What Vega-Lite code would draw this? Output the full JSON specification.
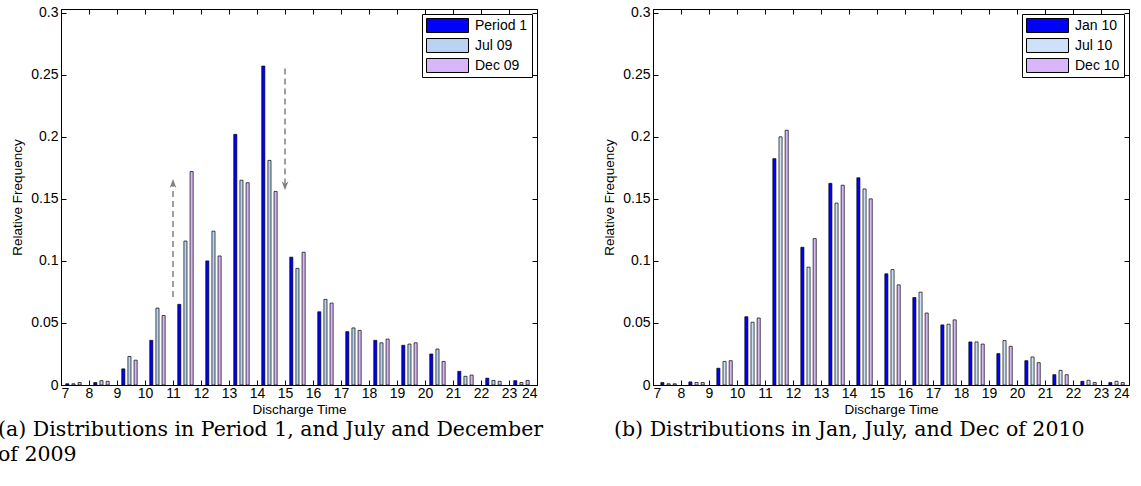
{
  "$schema": "https://vega.github.io/schema/vega-lite/v6.json",
  "background": "white",
  "padding": {"left": -3, "top": 5, "right": 0, "bottom": 0},
  "spacing": 58,
  "resolve": {"scale": {"color": "independent"}, "legend": {"color": "independent"}},
  "config": {
    "view": {"stroke": "black", "strokeWidth": 1},
    "axis": {
      "labelFont": "Liberation Sans", "titleFont": "Liberation Sans",
      "labelFontSize": 14, "titleFontSize": 13.5, "titleFontWeight": "normal",
      "labelColor": "black", "titleColor": "black", "tickColor": "black", "domainColor": "black",
      "grid": false, "tickSize": -5, "labelPadding": 8
    },
    "legend": {
      "orient": "top-right", "offset": 5, "title": null,
      "strokeColor": "black", "fillColor": "white", "padding": 4,
      "symbolType": "M-1,-0.333H1V0.333H-1Z", "symbolSize": 1764,
      "symbolStrokeColor": "black", "symbolStrokeWidth": 1,
      "clipHeight": 15, "rowPadding": 5, "labelOffset": 6,
      "labelFont": "Liberation Sans", "labelFontSize": 14, "labelColor": "black"
    }
  },
  "datasets": {
    "a": [
      {"h":7,"s":"Period 1","v":0.001},{"h":7,"s":"Jul 09","v":0.001},{"h":7,"s":"Dec 09","v":0.002},
      {"h":8,"s":"Period 1","v":0.002},{"h":8,"s":"Jul 09","v":0.0035},{"h":8,"s":"Dec 09","v":0.003},
      {"h":9,"s":"Period 1","v":0.013},{"h":9,"s":"Jul 09","v":0.023},{"h":9,"s":"Dec 09","v":0.020},
      {"h":10,"s":"Period 1","v":0.036},{"h":10,"s":"Jul 09","v":0.062},{"h":10,"s":"Dec 09","v":0.056},
      {"h":11,"s":"Period 1","v":0.065},{"h":11,"s":"Jul 09","v":0.116},{"h":11,"s":"Dec 09","v":0.172},
      {"h":12,"s":"Period 1","v":0.100},{"h":12,"s":"Jul 09","v":0.124},{"h":12,"s":"Dec 09","v":0.104},
      {"h":13,"s":"Period 1","v":0.202},{"h":13,"s":"Jul 09","v":0.165},{"h":13,"s":"Dec 09","v":0.163},
      {"h":14,"s":"Period 1","v":0.257},{"h":14,"s":"Jul 09","v":0.181},{"h":14,"s":"Dec 09","v":0.156},
      {"h":15,"s":"Period 1","v":0.103},{"h":15,"s":"Jul 09","v":0.094},{"h":15,"s":"Dec 09","v":0.107},
      {"h":16,"s":"Period 1","v":0.059},{"h":16,"s":"Jul 09","v":0.069},{"h":16,"s":"Dec 09","v":0.066},
      {"h":17,"s":"Period 1","v":0.043},{"h":17,"s":"Jul 09","v":0.046},{"h":17,"s":"Dec 09","v":0.044},
      {"h":18,"s":"Period 1","v":0.036},{"h":18,"s":"Jul 09","v":0.034},{"h":18,"s":"Dec 09","v":0.037},
      {"h":19,"s":"Period 1","v":0.032},{"h":19,"s":"Jul 09","v":0.033},{"h":19,"s":"Dec 09","v":0.034},
      {"h":20,"s":"Period 1","v":0.025},{"h":20,"s":"Jul 09","v":0.029},{"h":20,"s":"Dec 09","v":0.019},
      {"h":21,"s":"Period 1","v":0.011},{"h":21,"s":"Jul 09","v":0.007},{"h":21,"s":"Dec 09","v":0.008},
      {"h":22,"s":"Period 1","v":0.0055},{"h":22,"s":"Jul 09","v":0.0037},{"h":22,"s":"Dec 09","v":0.003},
      {"h":23,"s":"Period 1","v":0.0035},{"h":23,"s":"Jul 09","v":0.002},{"h":23,"s":"Dec 09","v":0.0037}
    ],
    "b": [
      {"h":7,"s":"Jan 10","v":0.002},{"h":7,"s":"Jul 10","v":0.001},{"h":7,"s":"Dec 10","v":0.001},
      {"h":8,"s":"Jan 10","v":0.0025},{"h":8,"s":"Jul 10","v":0.002},{"h":8,"s":"Dec 10","v":0.002},
      {"h":9,"s":"Jan 10","v":0.0135},{"h":9,"s":"Jul 10","v":0.019},{"h":9,"s":"Dec 10","v":0.0196},
      {"h":10,"s":"Jan 10","v":0.055},{"h":10,"s":"Jul 10","v":0.0506},{"h":10,"s":"Dec 10","v":0.054},
      {"h":11,"s":"Jan 10","v":0.1824},{"h":11,"s":"Jul 10","v":0.200},{"h":11,"s":"Dec 10","v":0.2053},
      {"h":12,"s":"Jan 10","v":0.111},{"h":12,"s":"Jul 10","v":0.095},{"h":12,"s":"Dec 10","v":0.118},
      {"h":13,"s":"Jan 10","v":0.1625},{"h":13,"s":"Jul 10","v":0.1466},{"h":13,"s":"Dec 10","v":0.161},
      {"h":14,"s":"Jan 10","v":0.167},{"h":14,"s":"Jul 10","v":0.158},{"h":14,"s":"Dec 10","v":0.150},
      {"h":15,"s":"Jan 10","v":0.0896},{"h":15,"s":"Jul 10","v":0.093},{"h":15,"s":"Dec 10","v":0.0807},
      {"h":16,"s":"Jan 10","v":0.0705},{"h":16,"s":"Jul 10","v":0.0748},{"h":16,"s":"Dec 10","v":0.058},
      {"h":17,"s":"Jan 10","v":0.0484},{"h":17,"s":"Jul 10","v":0.049},{"h":17,"s":"Dec 10","v":0.0525},
      {"h":18,"s":"Jan 10","v":0.0347},{"h":18,"s":"Jul 10","v":0.0347},{"h":18,"s":"Dec 10","v":0.033},
      {"h":19,"s":"Jan 10","v":0.0253},{"h":19,"s":"Jul 10","v":0.0358},{"h":19,"s":"Dec 10","v":0.0312},
      {"h":20,"s":"Jan 10","v":0.0196},{"h":20,"s":"Jul 10","v":0.0226},{"h":20,"s":"Dec 10","v":0.018},
      {"h":21,"s":"Jan 10","v":0.0083},{"h":21,"s":"Jul 10","v":0.0118},{"h":21,"s":"Dec 10","v":0.0083},
      {"h":22,"s":"Jan 10","v":0.003},{"h":22,"s":"Jul 10","v":0.0038},{"h":22,"s":"Dec 10","v":0.002},
      {"h":23,"s":"Jan 10","v":0.002},{"h":23,"s":"Jul 10","v":0.003},{"h":23,"s":"Dec 10","v":0.002}
    ],
    "arrows": [
      {"x": 11, "y": 0.071, "y2": 0.162, "head": 0.1615, "dir": "up"},
      {"x": 15, "y": 0.255, "y2": 0.161, "head": 0.1615, "dir": "down"}
    ]
  },
  "hconcat": [
    {
      "width": 476, "height": 376,
      "title": {
        "text": ["(a) Distributions in Period 1, and July and December", "of 2009"],
        "orient": "bottom", "anchor": "start", "frame": "group", "align": "left",
        "dx": -63, "offset": 4, "font": "DejaVu Serif", "fontSize": 20.5,
        "fontWeight": "normal", "color": "black", "lineHeight": 25
      },
      "layer": [
        {
          "data": {"name": "a"},
          "mark": {"type": "bar", "stroke": "black", "strokeWidth": 0.7},
          "encoding": {
            "x": {"field": "h", "type": "ordinal",
                  "scale": {"domain": [7,8,9,10,11,12,13,14,15,16,17,18,19,20,21,22,23], "paddingInner": 0.34, "paddingOuter": 0.17},
                  "axis": null},
            "xOffset": {"field": "s", "sort": ["Period 1", "Jul 09", "Dec 09"], "scale": {"paddingInner": 0, "paddingOuter": 0}},
            "y": {"field": "v", "type": "quantitative",
                  "scale": {"domain": [0, 0.303], "nice": false},
                  "axis": {"values": [0, 0.05, 0.1, 0.15, 0.2, 0.25, 0.3], "format": "~g", "title": "Relative Frequency", "titlePadding": 6}},
            "color": {"field": "s", "type": "nominal",
                      "scale": {"domain": ["Period 1", "Jul 09", "Dec 09"], "range": ["#0000ff", "#b9d3f0", "#d9b6f9"]},
                      "sort": ["Period 1", "Jul 09", "Dec 09"]}
          }
        },
        {
          "data": {"name": "a"},
          "mark": {"type": "point", "opacity": 0},
          "encoding": {
            "x": {"field": "h", "type": "quantitative", "scale": {"domain": [7, 24], "nice": false, "zero": false},
                  "axis": {"values": [7,8,9,10,11,12,13,14,15,16,17,18,19,20,21,22,23,24], "title": "Discharge Time", "titlePadding": 2, "labelPadding": 6}},
            "y": {"field": "v", "type": "quantitative",
                  "axis": {"orient": "right", "labels": false, "title": null, "values": [0, 0.05, 0.1, 0.15, 0.2, 0.25, 0.3]}}
          }
        },
        {
          "data": {"name": "a"},
          "mark": {"type": "point", "opacity": 0},
          "encoding": {
            "x": {"field": "h", "type": "quantitative", "scale": {"domain": [7, 24], "nice": false, "zero": false},
                  "axis": {"orient": "top", "labels": false, "title": null, "values": [7,8,9,10,11,12,13,14,15,16,17,18,19,20,21,22,23,24]}},
            "y": {"field": "v", "type": "quantitative", "axis": null}
          }
        },
        {
          "data": {"name": "arrows"},
          "mark": {"type": "rule", "color": "#808080", "strokeWidth": 1.5, "strokeDash": [6, 4]},
          "encoding": {
            "x": {"field": "x", "type": "quantitative", "scale": {"domain": [7, 24], "nice": false, "zero": false}, "axis": null},
            "y": {"field": "y", "type": "quantitative", "axis": null},
            "y2": {"field": "y2"}
          }
        },
        {
          "data": {"name": "arrows"},
          "mark": {"type": "point", "filled": true, "color": "#808080", "opacity": 1, "size": 130},
          "encoding": {
            "x": {"field": "x", "type": "quantitative", "scale": {"domain": [7, 24], "nice": false, "zero": false}, "axis": null},
            "y": {"field": "head", "type": "quantitative", "axis": null},
            "shape": {"field": "dir", "type": "nominal", "legend": null,
                      "scale": {"domain": ["up", "down"], "range": ["M0,-1L0.6,0.6L0,0.1L-0.6,0.6Z", "M0,1L0.6,-0.6L0,-0.1L-0.6,-0.6Z"]}}
          }
        }
      ],
      "resolve": {"scale": {"x": "independent"}, "axis": {"x": "independent", "y": "independent"}}
    },
    {
      "width": 476, "height": 376,
      "title": {
        "text": "(b) Distributions in Jan, July, and Dec of 2010",
        "orient": "bottom", "anchor": "start", "frame": "group", "align": "left",
        "dx": -39, "offset": 4, "font": "DejaVu Serif", "fontSize": 20.5,
        "fontWeight": "normal", "color": "black", "lineHeight": 25
      },
      "layer": [
        {
          "data": {"name": "b"},
          "mark": {"type": "bar", "stroke": "black", "strokeWidth": 0.7},
          "encoding": {
            "x": {"field": "h", "type": "ordinal",
                  "scale": {"domain": [7,8,9,10,11,12,13,14,15,16,17,18,19,20,21,22,23], "paddingInner": 0.34, "paddingOuter": 0.17},
                  "axis": null},
            "xOffset": {"field": "s", "sort": ["Jan 10", "Jul 10", "Dec 10"], "scale": {"paddingInner": 0, "paddingOuter": 0}},
            "y": {"field": "v", "type": "quantitative",
                  "scale": {"domain": [0, 0.303], "nice": false},
                  "axis": {"values": [0, 0.05, 0.1, 0.15, 0.2, 0.25, 0.3], "format": "~g", "title": "Relative Frequency", "titlePadding": 6}},
            "color": {"field": "s", "type": "nominal",
                      "scale": {"domain": ["Jan 10", "Jul 10", "Dec 10"], "range": ["#0000ff", "#cde1f8", "#d9b6f9"]},
                      "sort": ["Jan 10", "Jul 10", "Dec 10"]}
          }
        },
        {
          "data": {"name": "b"},
          "mark": {"type": "point", "opacity": 0},
          "encoding": {
            "x": {"field": "h", "type": "quantitative", "scale": {"domain": [7, 24], "nice": false, "zero": false},
                  "axis": {"values": [7,8,9,10,11,12,13,14,15,16,17,18,19,20,21,22,23,24], "title": "Discharge Time", "titlePadding": 2, "labelPadding": 6}},
            "y": {"field": "v", "type": "quantitative",
                  "axis": {"orient": "right", "labels": false, "title": null, "values": [0, 0.05, 0.1, 0.15, 0.2, 0.25, 0.3]}}
          }
        },
        {
          "data": {"name": "b"},
          "mark": {"type": "point", "opacity": 0},
          "encoding": {
            "x": {"field": "h", "type": "quantitative", "scale": {"domain": [7, 24], "nice": false, "zero": false},
                  "axis": {"orient": "top", "labels": false, "title": null, "values": [7,8,9,10,11,12,13,14,15,16,17,18,19,20,21,22,23,24]}},
            "y": {"field": "v", "type": "quantitative", "axis": null}
          }
        }
      ],
      "resolve": {"scale": {"x": "independent"}, "axis": {"x": "independent", "y": "independent"}}
    }
  ]
}
